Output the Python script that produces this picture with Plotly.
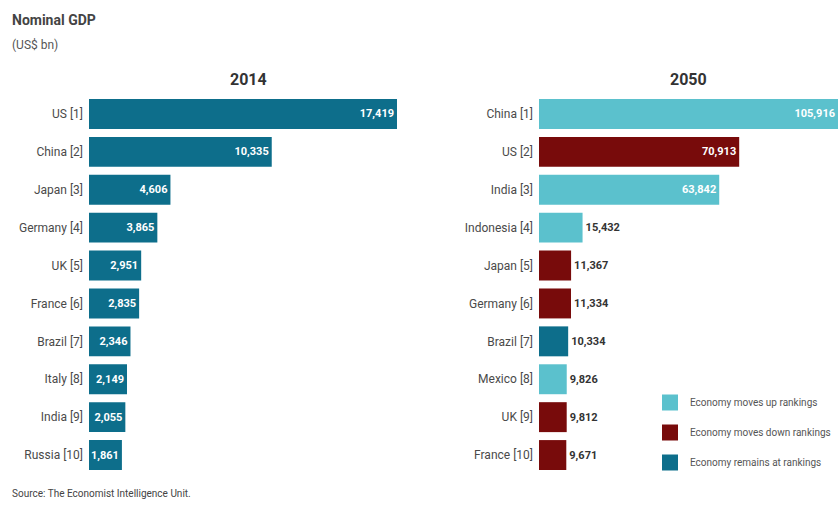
import plotly.graph_objects as go

# ---- data ----
countries_2014 = ["US [1]", "China [2]", "Japan [3]", "Germany [4]", "UK [5]",
                  "France [6]", "Brazil [7]", "Italy [8]", "India [9]", "Russia [10]"]
gdp_2014 = [17419, 10335, 4606, 3865, 2951, 2835, 2346, 2149, 2055, 1861]

countries_2050 = ["China [1]", "US [2]", "India [3]", "Indonesia [4]", "Japan [5]",
                  "Germany [6]", "Brazil [7]", "Mexico [8]", "UK [9]", "France [10]"]
gdp_2050 = [105916, 70913, 63842, 15432, 11367, 11334, 10334, 9826, 9812, 9671]
status_2050 = ["up", "down", "up", "up", "down", "down", "same", "up", "down", "down"]

legend_labels = {"up": "Economy moves up rankings",
                 "down": "Economy moves down rankings",
                 "same": "Economy remains at rankings"}

COL = {"up": "#5bc1cd", "down": "#780b0b", "same": "#0d6e8b"}
FONT = "Roboto, Noto Sans, sans-serif"
GREY = "#4a4a4a"

W, H = 839, 508
fig = go.Figure()

fmt = lambda v: f"{v:,}"

fig.add_trace(go.Bar(
    x=gdp_2014, y=countries_2014, orientation="h",
    marker=dict(color=COL["same"], line=dict(width=0)),
    text=[fmt(v) for v in gdp_2014], textposition="inside",
    insidetextanchor="end",
    textfont=dict(family=FONT, size=11, color="white", weight="bold"),
    xaxis="x", yaxis="y", showlegend=False, hoverinfo="skip",
))

inside = [v > 40000 for v in gdp_2050]
fig.add_trace(go.Bar(
    x=gdp_2050, y=countries_2050, orientation="h",
    marker=dict(color=[COL[s] for s in status_2050], line=dict(width=0)),
    text=[fmt(v) for v in gdp_2050],
    textposition=["inside" if i else "outside" for i in inside],
    insidetextanchor="end",
    insidetextfont=dict(family=FONT, size=11, color="white", weight="bold"),
    outsidetextfont=dict(family=FONT, size=11, color="#333333", weight="bold"),
    cliponaxis=False,
    xaxis="x2", yaxis="y2", showlegend=False, hoverinfo="skip",
))

for i, key in enumerate(["up", "down", "same"]):
    fig.add_trace(go.Scatter(
        x=[None], y=[None], mode="markers", name=legend_labels[key],
        marker=dict(symbol="square", size=16, color=COL[key]),
        legendgroup=key, xaxis="x2", yaxis="y2",
    ))

ytop, ybot = 1 - 95 / H, 1 - 474 / H
fig.update_layout(
    width=W, height=H, margin=dict(l=0, r=0, t=0, b=0),
    paper_bgcolor="white", plot_bgcolor="white",
    bargap=0.21,
    font=dict(family=FONT, color=GREY),
    xaxis=dict(domain=[89 / W, 420 / W], range=[0, 17419 * 331 / 308],
               visible=False, fixedrange=True),
    yaxis=dict(domain=[ybot, ytop], autorange="reversed", anchor="x",
               showgrid=False, zeroline=False, showline=False, ticks="",
               ticklabelstandoff=5, tickfont=dict(size=12, color=GREY)),
    xaxis2=dict(domain=[539 / W, 1.0], range=[0, 105916 * 301 / 300],
                visible=False, fixedrange=True, anchor="y2"),
    yaxis2=dict(domain=[ybot, ytop], autorange="reversed", anchor="x2",
                showgrid=False, zeroline=False, showline=False, ticks="",
                ticklabelstandoff=5, tickfont=dict(size=12, color=GREY)),
    showlegend=True,
    legend=dict(x=650 / W, y=1 - 388 / H, xanchor="left", yanchor="top",
                bgcolor="rgba(0,0,0,0)", traceorder="grouped",
                tracegroupgap=11, font=dict(size=10, color="#555555"),
                itemclick=False, itemdoubleclick=False),
    uniformtext=dict(minsize=11, mode="show"),
    annotations=[
        dict(text="<b>Nominal GDP</b>", x=10 / W, y=1 - 20 / H, xref="paper", yref="paper",
             xanchor="left", yanchor="middle", showarrow=False,
             font=dict(size=14, color="#444444")),
        dict(text="(US$ bn)", x=10 / W, y=1 - 45 / H, xref="paper", yref="paper",
             xanchor="left", yanchor="middle", showarrow=False,
             font=dict(size=12, color="#555555")),
        dict(text="<b>2014</b>", x=248 / W, y=1 - 80 / H, xref="paper", yref="paper",
             xanchor="center", yanchor="middle", showarrow=False,
             font=dict(size=16, color="#333333")),
        dict(text="<b>2050</b>", x=688 / W, y=1 - 80 / H, xref="paper", yref="paper",
             xanchor="center", yanchor="middle", showarrow=False,
             font=dict(size=16, color="#333333")),
        dict(text="Source: The Economist Intelligence Unit.", x=10 / W, y=1 - 493 / H,
             xref="paper", yref="paper", xanchor="left", yanchor="middle",
             showarrow=False, font=dict(size=10, color="#444444")),
    ],
)

fig.write_html("out.html",
               config={"displayModeBar": False},
               post_script="document.body.style.margin='0';"
                           "document.body.style.overflow='hidden';")
